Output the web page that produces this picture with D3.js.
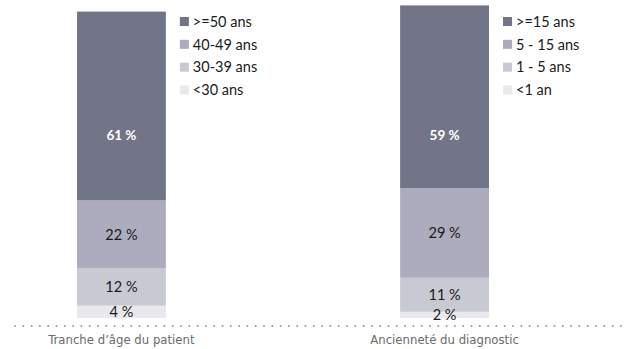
<!DOCTYPE html>
<html>
<head>
<meta charset="utf-8">
<script src="https://cdn.jsdelivr.net/npm/d3@7/dist/d3.min.js"></script>
<style>
  html, body { margin: 0; padding: 0; background: #fff; }
  svg { display: block; }
</style>
</head>
<body>
<svg id="chart" width="629" height="349"></svg>
<script>
// Two stacked 100% columns: patient age band and time since diagnosis
const panelTitles = ["Tranche d\u2019\u00e2ge du patient", "Anciennet\u00e9 du diagnostic"];

const ageCategories = ["<30 ans", "30-39 ans", "40-49 ans", ">=50 ans"];
const ageValues = [4, 12, 22, 61];

const durationCategories = ["<1 an", "1 - 5 ans", "5 - 15 ans", ">=15 ans"];
const durationValues = [2, 11, 29, 59];

// segment colours, bottom to top
const segmentColors = ["#e8e8ed", "#c8cad3", "#adabbe", "#727488"];

const svg = d3.select("#chart");

const y = d3.scaleLinear().domain([0, 100]).range([318, 8.5]);

const x = d3.scaleBand()
  .domain(panelTitles)
  .range([77, 489])
  .paddingInner(0.725)
  .paddingOuter(0);

const panels = [
  { title: panelTitles[0], cats: ageCategories, vals: ageValues },
  { title: panelTitles[1], cats: durationCategories, vals: durationValues }
];

const labelFont = "Lato, 'Open Sans', sans-serif";

panels.forEach(p => {
  const x0 = x(p.title);
  const bw = x.bandwidth();
  let acc = 0;
  const segs = p.vals.map((v, i) => {
    const s = { v, i, lo: acc, hi: acc + v, cat: p.cats[i] };
    acc += v;
    return s;
  });

  const g = svg.append("g");
  g.selectAll("rect")
    .data(segs)
    .join("rect")
    .attr("x", x0)
    .attr("width", bw)
    .attr("y", d => y(d.hi))
    .attr("height", d => y(d.lo) - y(d.hi))
    .attr("fill", d => segmentColors[d.i]);

  const last = segs.length - 1;
  g.selectAll("text.val")
    .data(segs)
    .join("text")
    .attr("class", "val")
    .attr("x", x0 + bw / 2)
    .attr("y", d => d.i === last ? y(59) : (y(d.lo) + y(d.hi)) / 2)
    .attr("dy", "0.36em")
    .attr("text-anchor", "middle")
    .attr("font-family", labelFont)
    .attr("font-size", d => d.i === last ? 13.5 : 14.5)
    .attr("font-weight", d => d.i === last ? 700 : 400)
    .attr("fill", d => d.i === last ? "#ffffff" : "#1a1a1a")
    .text(d => d.v + "\u00a0%");

  // legend, top entry first
  const lx = x0 + bw + 14;
  const legend = svg.append("g").attr("transform", `translate(${lx},0)`);
  const items = segs.slice().reverse();
  const rowY = d3.scaleLinear().domain([0, 3]).range([21.5, 90]);
  const row = legend.selectAll("g")
    .data(items)
    .join("g")
    .attr("transform", (d, k) => `translate(0,${rowY(k)})`);
  row.append("rect")
    .attr("x", 0).attr("y", -4.5)
    .attr("width", 9).attr("height", 9)
    .attr("fill", d => segmentColors[d.i]);
  row.append("text")
    .attr("x", 13)
    .attr("dy", "0.36em")
    .attr("font-family", labelFont)
    .attr("font-size", 14.5)
    .attr("fill", "#1a1a1a")
    .text(d => d.cat);

  // category title under the column
  svg.append("text")
    .attr("x", x0 + bw / 2)
    .attr("y", 344)
    .attr("text-anchor", "middle")
    .attr("font-family", "'Liberation Sans Narrow', 'DejaVu Sans Condensed', sans-serif")
    .attr("font-size", 13)
    .attr("fill", "#6b6b6b")
    .text(p.title);
});

// dotted separator along the base
svg.append("g")
  .selectAll("circle")
  .data(d3.range(15, 624, 8.3))
  .join("circle")
  .attr("cx", d => d)
  .attr("cy", 326)
  .attr("r", 1)
  .attr("fill", "#9a9a9a");
</script>
</body>
</html>
